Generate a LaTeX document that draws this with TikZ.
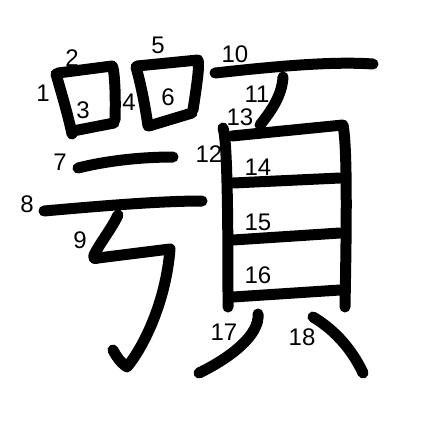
\documentclass[tikz,border=0pt]{standalone}
\usepackage{fontspec}
\setmainfont{Liberation Sans}
\begin{document}
\begin{tikzpicture}[x=1pt,y=-1pt,
  stroke/.style={line width=11pt,line cap=round,line join=round,black},
  num/.style={inner sep=0pt,font=\fontsize{24}{24}\selectfont}]
\useasboundingbox (0,0) rectangle (447,447);
% strokes
\draw[stroke] (56,74) .. controls (62,95) and (68,115) .. (72,134);
\draw[stroke] (58,73) -- (112,66) .. controls (114,66) and (116,90) .. (115,120);
\draw[stroke] (73,131) -- (114,123);
\draw[stroke] (136,67) .. controls (141,85) and (145,105) .. (148,126);
\draw[stroke] (137,66) -- (198,60) .. controls (200,65) and (196,90) .. (193,110);
\draw[stroke] (149,126) -- (192,113);
\draw[stroke] (78,168) .. controls (110,160) and (145,157) .. (173,157);
\draw[stroke] (44,211) .. controls (100,206) and (160,201) .. (202,201);
\draw[stroke] (118,215) .. controls (112,228) and (100,243) .. (94,255)
  .. controls (93,259) and (95,259) .. (98,258)
  -- (170,249) .. controls (166,300) and (145,345) .. (127,367)
  .. controls (120,362) and (116,356) .. (113,350);
\draw[stroke] (215,73) .. controls (270,67) and (330,61) .. (373,64);
\draw[stroke] (283,77) .. controls (282,95) and (272,110) .. (260,125);
\draw[stroke] (223,128) .. controls (228,140) and (228,250) .. (228,307);
\draw[stroke] (232,136) -- (343,125) .. controls (348,150) and (346,250) .. (345,307);
\draw[stroke] (233,183) -- (340,178);
\draw[stroke] (233,240) -- (340,233);
\draw[stroke] (233,297) -- (340,290);
\draw[stroke] (258,314) .. controls (260,335) and (230,358) .. (199,373);
\draw[stroke] (313,317) .. controls (330,327) and (350,345) .. (363,373);
% numbers
\node[num] (l1) at (43,93) {1};
\node[num] (l2) at (72,58) {2};
\node[num] (l3) at (83,110) {3};
\node[num] (l4) at (129,102) {4};
\node[num] (l5) at (158,45) {5};
\node[num] (l6) at (168,97) {6};
\node[num] (l7) at (60,162) {7};
\node[num] (l8) at (27,204) {8};
\node[num] (l9) at (80,240) {9};
\node[num] (l10) at (235,54) {10};
\node[num] (l11) at (257,94) {11};
\node[num] (l12) at (209,154) {12};
\node[num] (l13) at (240,117) {13};
\node[num] (l14) at (258,167) {14};
\node[num] (l15) at (258,222) {15};
\node[num] (l16) at (258,275) {16};
\node[num] (l17) at (224,332) {17};
\node[num] (l18) at (302,337) {18};
\end{tikzpicture}
\end{document}
